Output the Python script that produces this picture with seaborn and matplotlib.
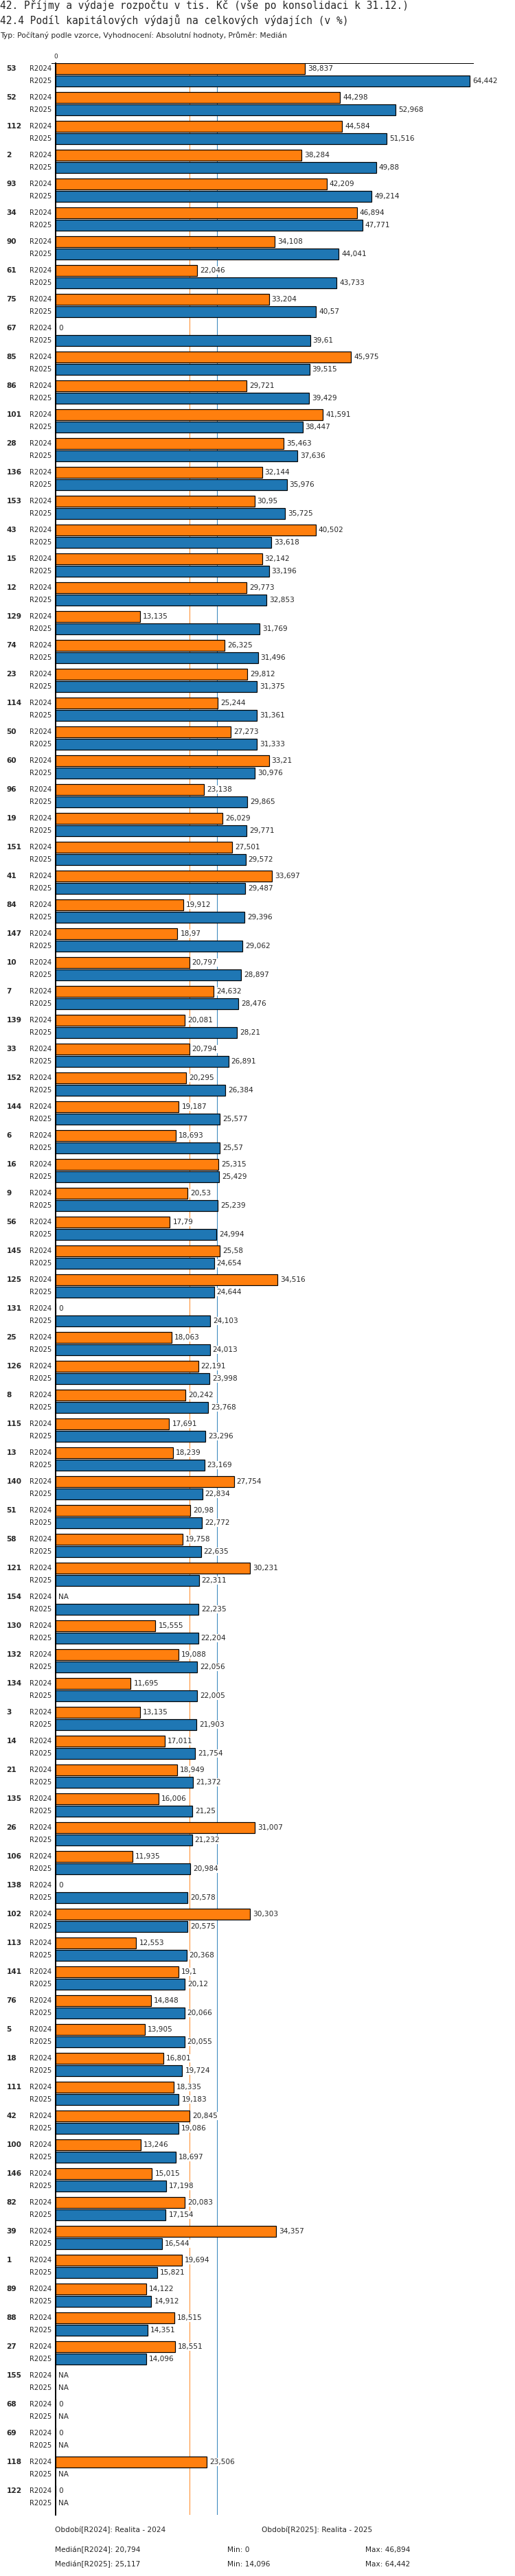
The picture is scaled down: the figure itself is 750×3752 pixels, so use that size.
import numpy as np
import pandas as pd
import matplotlib
matplotlib.use("Agg")
import matplotlib.pyplot as plt
import matplotlib.transforms as mtransforms
import seaborn as sns

# data (NaN = NA)
NA = np.nan
groups = ["53", "52", "112", "2", "93", "34", "90", "61", "75", "67",
          "85", "86", "101", "28", "136", "153", "43", "15", "12", "129",
          "74", "23", "114", "50", "60", "96", "19", "151", "41", "84",
          "147", "10", "7", "139", "33", "152", "144", "6", "16", "9",
          "56", "145", "125", "131", "25", "126", "8", "115", "13", "140",
          "51", "58", "121", "154", "130", "132", "134", "3", "14", "21",
          "135", "26", "106", "138", "102", "113", "141", "76", "5", "18",
          "111", "42", "100", "146", "82", "39", "1", "89", "88", "27",
          "155", "68", "69", "118", "122"]
r2024 = [38.837, 44.298, 44.584, 38.284, 42.209, 46.894, 34.108, 22.046, 33.204, 0,
         45.975, 29.721, 41.591, 35.463, 32.144, 30.95, 40.502, 32.142, 29.773, 13.135,
         26.325, 29.812, 25.244, 27.273, 33.21, 23.138, 26.029, 27.501, 33.697, 19.912,
         18.97, 20.797, 24.632, 20.081, 20.794, 20.295, 19.187, 18.693, 25.315, 20.53,
         17.79, 25.58, 34.516, 0, 18.063, 22.191, 20.242, 17.691, 18.239, 27.754,
         20.98, 19.758, 30.231, NA, 15.555, 19.088, 11.695, 13.135, 17.011, 18.949,
         16.006, 31.007, 11.935, 0, 30.303, 12.553, 19.1, 14.848, 13.905, 16.801,
         18.335, 20.845, 13.246, 15.015, 20.083, 34.357, 19.694, 14.122, 18.515, 18.551,
         NA, 0, 0, 23.506, 0]
r2025 = [64.442, 52.968, 51.516, 49.88, 49.214, 47.771, 44.041, 43.733, 40.57, 39.61,
         39.515, 39.429, 38.447, 37.636, 35.976, 35.725, 33.618, 33.196, 32.853, 31.769,
         31.496, 31.375, 31.361, 31.333, 30.976, 29.865, 29.771, 29.572, 29.487, 29.396,
         29.062, 28.897, 28.476, 28.21, 26.891, 26.384, 25.577, 25.57, 25.429, 25.239,
         24.994, 24.654, 24.644, 24.103, 24.013, 23.998, 23.768, 23.296, 23.169, 22.834,
         22.772, 22.635, 22.311, 22.235, 22.204, 22.056, 22.005, 21.903, 21.754, 21.372,
         21.25, 21.232, 20.984, 20.578, 20.575, 20.368, 20.12, 20.066, 20.055, 19.724,
         19.183, 19.086, 18.697, 17.198, 17.154, 16.544, 15.821, 14.912, 14.351, 14.096,
         NA, NA, NA, NA, NA]
periods = ["R2024", "R2025"]
period_names = ["Realita - 2024", "Realita - 2025"]
colors = ["#ff7f0e", "#1f77b4"]

W, H, DPI = 750, 3752, 72


def fmt(v):
    if np.isnan(v):
        return "NA"
    return f"{v:.3f}".rstrip("0").rstrip(".").replace(".", ",")


df = pd.DataFrame({
    "group": groups * 2,
    "period": [periods[0]] * len(groups) + [periods[1]] * len(groups),
    "value": r2024 + r2025,
})

sns.set_style("white")
plt.rcParams["font.family"] = ["DejaVu Sans"]

fig = plt.figure(figsize=(W / DPI, H / DPI), dpi=DPI)
ax = fig.add_axes([81 / W, 1 - 3663 / H, 608 / W, (3663 - 92) / H])

bar_w = 0.857
sns.barplot(data=df, x="value", y="group", hue="period", order=groups,
            hue_order=periods, palette=colors, saturation=1, orient="h",
            width=bar_w, gap=0.15, errorbar=None, edgecolor="black",
            linewidth=1.2, legend=False, ax=ax)

stats = []
for p, c in zip(periods, colors):
    vals = df.loc[df["period"] == p, "value"].dropna()
    stats.append((vals.median(), vals.min(), vals.max()))
    ax.axvline(vals.median(), color=c, lw=0.9, zorder=0.5)

ax.set_xlim(0, 65)
ax.set_ylim(84.62, -0.405)
ax.set_xlabel("")
ax.set_ylabel("")
ax.set_yticks([])
ax.xaxis.tick_top()
ax.set_xticks([0])
ax.set_xticklabels(["0"], fontsize=9)
ax.tick_params(axis="x", length=0, pad=5)
for side in ["right", "bottom"]:
    ax.spines[side].set_visible(False)
ax.spines["top"].set_linewidth(1)
ax.spines["top"].set_bounds(-0.65, 65)
ax.spines["left"].set_linewidth(2)
ax.spines["left"].set_color("black")
ax.spines["top"].set_color("black")

off = bar_w / 4
lab_tr = mtransforms.blended_transform_factory(fig.transFigure, ax.transData)
for i, g in enumerate(groups):
    fig.text(9.6 / W, i - off, g, transform=lab_tr, fontsize=10.5,
             fontweight="bold", va="center", ha="left")
    for j, vals in enumerate([r2024, r2025]):
        y = i - off if j == 0 else i + off
        v = vals[i]
        fig.text(75.5 / W, y, periods[j], transform=lab_tr, fontsize=10,
                 va="center", ha="right")
        x = 0 if np.isnan(v) else v
        ax.annotate(fmt(v), xy=(x, y), xytext=(4, 0), textcoords="offset points",
                    fontsize=10.5, va="center", ha="left", zorder=3,
                    bbox=dict(facecolor="white", edgecolor="none", pad=0.8))

# header
mono = ["DejaVu Sans Mono"]
fig.text(0, 1 - 13 / H, "42. Příjmy a výdaje rozpočtu v tis. Kč (vše po konsolidaci k 31.12.)",
         family=mono, fontsize=14.5, va="baseline")
fig.text(0, 1 - 35 / H, "42.4 Podíl kapitálových výdajů na celkových výdajích (v %)",
         family=mono, fontsize=14.5, va="baseline")
fig.text(0, 1 - 55 / H,
         "Typ: Počítaný podle vzorce, Vyhodnocení: Absolutní hodnoty, Průměr: Medián",
         fontsize=10.8, va="baseline")

# footer
fig.text(80 / W, 1 - 3688 / H, f"Období[{periods[0]}]: {period_names[0]}",
         fontsize=10.5, va="baseline")
fig.text(381 / W, 1 - 3688 / H, f"Období[{periods[1]}]: {period_names[1]}",
         fontsize=10.5, va="baseline")
for k, (p, (med, mn, mx)) in enumerate(zip(periods, stats)):
    yb = 1 - (3717 + 21 * k) / H
    fig.text(80 / W, yb, f"Medián[{p}]: {fmt(med)}", fontsize=10.5, va="baseline")
    fig.text(331 / W, yb, f"Min: {fmt(mn)}", fontsize=10.5, va="baseline")
    fig.text(532 / W, yb, f"Max: {fmt(mx)}", fontsize=10.5, va="baseline")

fig.savefig("out.png", dpi=DPI)
